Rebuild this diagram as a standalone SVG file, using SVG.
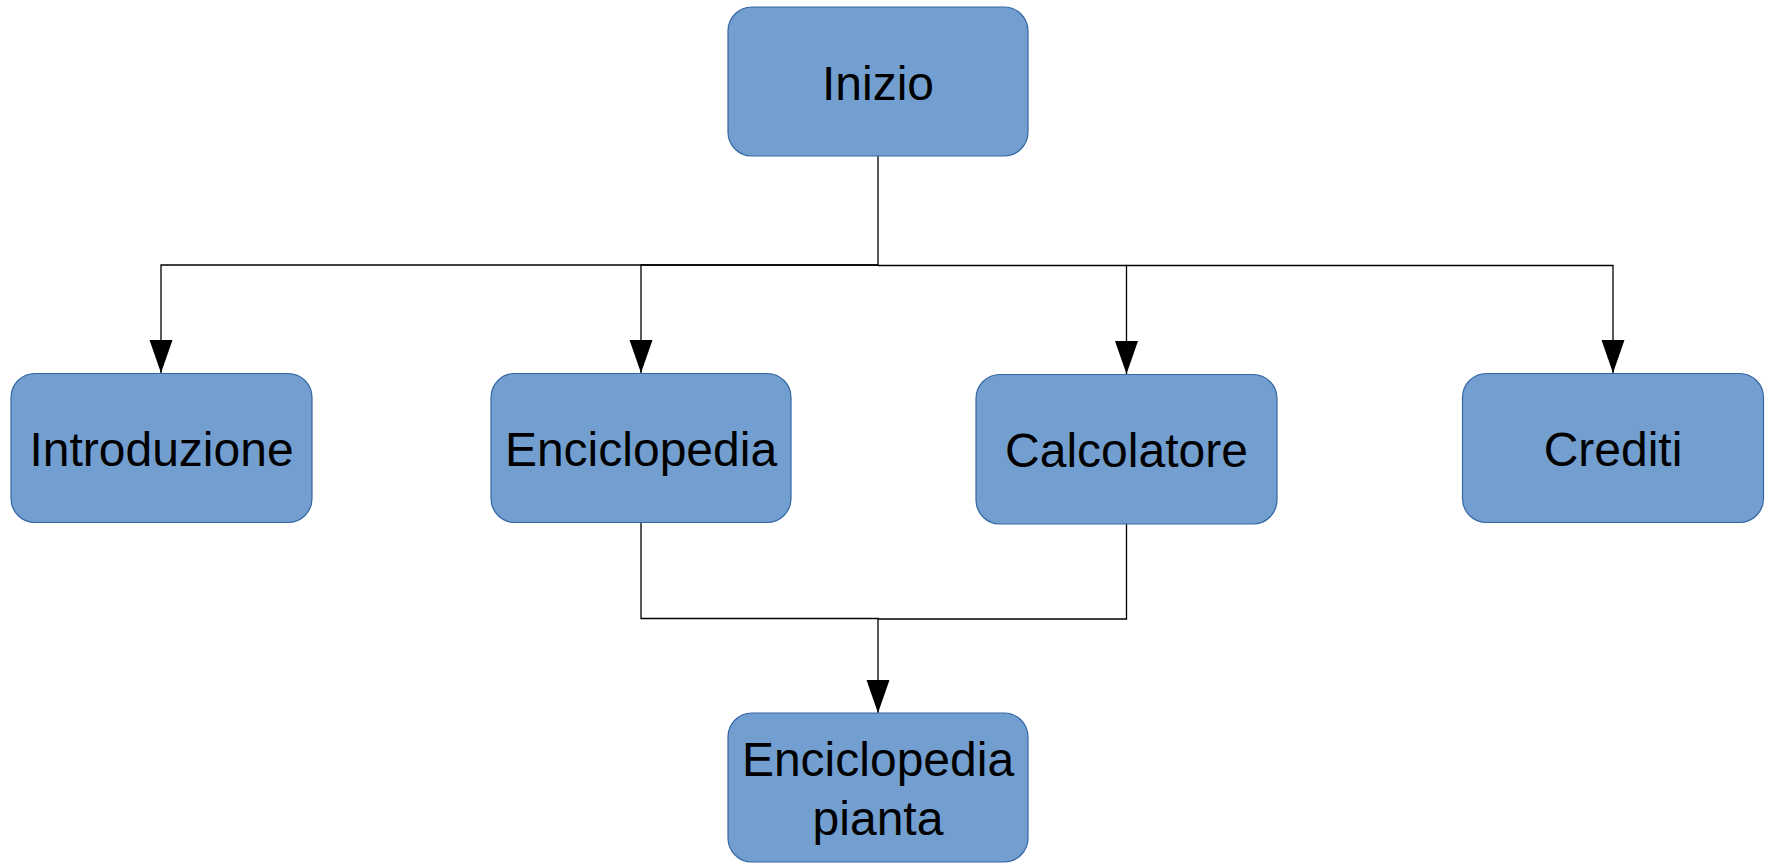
<svg xmlns="http://www.w3.org/2000/svg" width="1773" height="863" viewBox="0 0 1773 863">
  <style>
    .box { fill: #729fcf; stroke: #3465a4; stroke-width: 1.2; }
    .lbl { font-family: "Liberation Sans", Arial, sans-serif; font-size: 48px; fill: #000; text-anchor: middle; }
    .conn { fill: none; stroke: #000; stroke-width: 1.3; }
  </style>
  <defs>
    <marker id="arrow" markerUnits="userSpaceOnUse" markerWidth="34" markerHeight="24" refX="33" refY="11.5" orient="auto">
      <path d="M0,0 L33,11.5 L0,23 Z" fill="#000"/>
    </marker>
  </defs>
  <rect width="1773" height="863" fill="#fff"/>
  <g id="connectors">
    <path class="conn" d="M878,156 V265 H161 V373" marker-end="url(#arrow)"/>
    <path class="conn" d="M878,265 H641 V373" marker-end="url(#arrow)"/>
    <path class="conn" d="M878,265.5 H1126.5 V374" marker-end="url(#arrow)"/>
    <path class="conn" d="M1126.5,265.5 H1613 V373" marker-end="url(#arrow)"/>
    <path class="conn" d="M641,522.5 V618.5 H878 V713" marker-end="url(#arrow)"/>
    <path class="conn" d="M1126.5,524 V619 H878"/>
  </g>
  <g id="inizio">
    <rect class="box" x="728" y="7" width="300" height="149" rx="24" ry="24"/>
    <text class="lbl" x="878" y="99.5">Inizio</text>
  </g>
  <g id="introduzione">
    <rect class="box" x="11" y="373.5" width="301" height="149" rx="24" ry="24"/>
    <text class="lbl" x="161.5" y="466">Introduzione</text>
  </g>
  <g id="enciclopedia">
    <rect class="box" x="491" y="373.5" width="300" height="149" rx="24" ry="24"/>
    <text class="lbl" x="641" y="465.5">Enciclopedia</text>
  </g>
  <g id="calcolatore">
    <rect class="box" x="976" y="374.5" width="301" height="149.5" rx="24" ry="24"/>
    <text class="lbl" x="1126.5" y="467">Calcolatore</text>
  </g>
  <g id="crediti">
    <rect class="box" x="1462.5" y="373.5" width="301" height="149" rx="24" ry="24"/>
    <text class="lbl" x="1613" y="465.5">Crediti</text>
  </g>
  <g id="enciclopedia-pianta">
    <rect class="box" x="728" y="713" width="300" height="149" rx="24" ry="24"/>
    <text class="lbl" x="878" y="776">Enciclopedia</text>
    <text class="lbl" x="878" y="835">pianta</text>
  </g>
</svg>
